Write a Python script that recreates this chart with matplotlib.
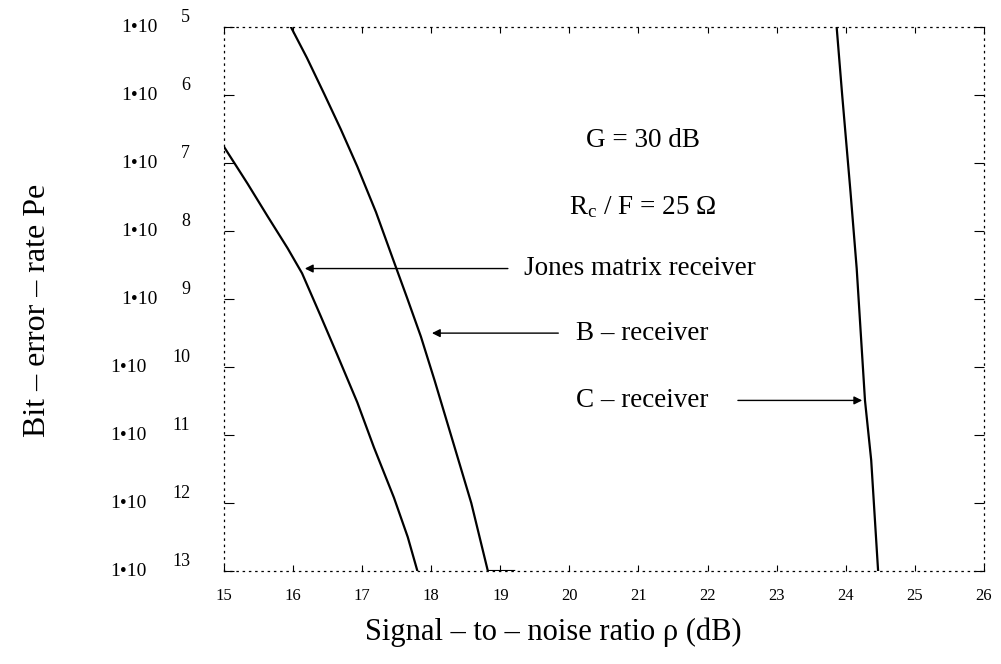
import numpy as np
import matplotlib
matplotlib.use("Agg")
import matplotlib.pyplot as plt
from matplotlib.ticker import FixedLocator, FixedFormatter, NullLocator, NullFormatter

plt.rcParams['font.family'] = ['Liberation Serif', 'DejaVu Serif']
plt.rcParams['mathtext.fontset'] = 'custom'
plt.rcParams['mathtext.rm'] = 'Liberation Serif'
plt.rcParams['mathtext.default'] = 'regular'

# signal-to-noise ratio (dB) and log10 of bit-error-rate
jones_snr = [15.0, 15.34, 15.63, 15.92, 16.13, 16.40, 16.64, 16.93, 17.17, 17.46, 17.66, 17.80]
jones_log = [-6.76, -7.30, -7.78, -8.25, -8.62, -9.25, -9.82, -10.52, -11.18, -11.92, -12.50, -13.0]

b_snr = [15.97, 16.20, 16.45, 16.69, 16.93, 17.20, 17.46, 17.65, 17.85, 18.05, 18.33, 18.58, 18.82, 19.2]
b_log = [-5.0, -5.45, -5.98, -6.50, -7.05, -7.72, -8.45, -8.98, -9.55, -10.20, -11.15, -12.0, -13.0, -13.0]

c_snr = [23.87, 23.95, 24.07, 24.16, 24.28, 24.37, 24.47]
c_log = [-5.0, -6.0, -7.42, -8.55, -10.49, -11.37, -13.0]

x_ticks = list(range(15, 27))
y_exps = list(range(5, 14))

fig = plt.figure(figsize=(10.01, 6.64), dpi=100)
ax = fig.add_axes([0.2238, 0.140, 0.759, 0.819])

lw = 1.6
ax.plot(jones_snr, 10.0 ** np.array(jones_log), color='black', lw=lw)
ax.plot(b_snr, 10.0 ** np.array(b_log), color='black', lw=lw)
ax.plot(c_snr, 10.0 ** np.array(c_log), color='black', lw=lw)

ax.set_yscale('log')
ax.set_xlim(15, 26)
ax.set_ylim(1e-13, 1e-5)

ax.xaxis.set_major_locator(FixedLocator(x_ticks))
ax.xaxis.set_major_formatter(FixedFormatter([str(v) for v in x_ticks]))
ax.yaxis.set_major_locator(FixedLocator([10.0 ** -e for e in y_exps]))
ax.yaxis.set_major_formatter(NullFormatter())
ax.yaxis.set_minor_locator(NullLocator())
ax.yaxis.set_minor_formatter(NullFormatter())

ax.tick_params(axis='x', direction='in', length=4, width=0.8, top=True, pad=12, labelsize=12)
ax.tick_params(axis='y', direction='in', length=7, width=0.8, right=True)

# Mathcad style y labels: "1•10" with the exponent set high and to the right
ytr = ax.get_yaxis_transform()
for e in y_exps:
    base_x = -0.0868 if e < 10 else -0.1013
    ax.text(base_x, 10.0 ** -e, '1•10', transform=ytr, ha='right', va='center', fontsize=14)
    ax.text(-0.0447, 10.0 ** (-e + 0.14), str(e), transform=ytr, ha='right', va='center', fontsize=13)

for sp in ax.spines.values():
    sp.set_linestyle((0, (1, 4)))
    sp.set_linewidth(0.9)

ax.set_xlabel('Signal – to – noise ratio ρ (dB)', fontsize=22)
ax.xaxis.set_label_coords(0.433, -0.085)
ax.set_ylabel('Bit – error – rate Pe', fontsize=23)
ax.yaxis.set_label_coords(-0.226, 0.48)

# annotations
fs = 19.5
ax.text(21.06, 10 ** -6.66, 'G = 30 dB', fontsize=fs, ha='center', va='center')
ax.text(21.06, 10 ** -7.65, r'R$_c$ / F = 25 Ω', fontsize=fs, ha='center', va='center')
ax.text(19.35, 10 ** -8.55, 'Jones matrix receiver', fontsize=fs, ha='left', va='center')
ax.text(20.10, 10 ** -9.50, 'B – receiver', fontsize=fs, ha='left', va='center')
ax.text(20.10, 10 ** -10.49, 'C – receiver', fontsize=fs, ha='left', va='center')

arrow = dict(arrowstyle='-|>', lw=1.0, color='black', mutation_scale=12)
ax.annotate('', xy=(16.13, 10 ** -8.55), xytext=(19.15, 10 ** -8.55), arrowprops=arrow)
ax.annotate('', xy=(17.97, 10 ** -9.50), xytext=(19.88, 10 ** -9.50), arrowprops=arrow)
ax.annotate('', xy=(24.28, 10 ** -10.49), xytext=(22.40, 10 ** -10.49), arrowprops=arrow)

fig.savefig('out.png', dpi=100, facecolor='white')
